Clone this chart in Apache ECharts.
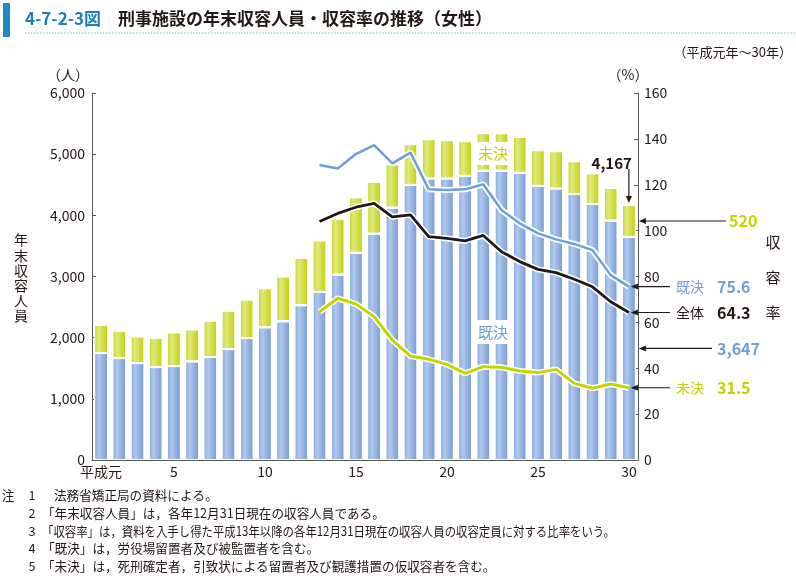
<!DOCTYPE html>
<html><head><meta charset="utf-8">
<script src="https://cdn.jsdelivr.net/npm/echarts@6/dist/echarts.min.js"></script>
<style>html,body{margin:0;padding:0;background:#fff}#c{width:796px;height:576px}</style>
</head><body><div id="c"></div>
<script>
// ---- data ----
const years = ['平成元','2','3','4','5','6','7','8','9','10','11','12','13','14','15','16','17','18','19','20','21','22','23','24','25','26','27','28','29','30'];
const kiketsu = [1749,1667,1585,1519,1536,1612,1683,1814,1995,2169,2268,2530,2749,3030,3388,3699,4126,4497,4601,4601,4645,4727,4727,4694,4481,4437,4350,4186,3913,3647];
const miketsu = [464,448,437,481,551,525,596,629,628,640,732,776,841,915,907,847,710,667,645,629,568,617,617,590,585,612,535,503,535,520];
const rateKiketsu = [null,null,null,null,null,null,null,null,null,null,null,null,128.6,127.1,133.4,137.3,129.3,134.0,118.0,117.7,118.0,120.2,109.0,103.2,98.8,96.2,94.2,91.5,80.6,75.6];
const rateTotal   = [null,null,null,null,null,null,null,null,null,null,null,null,104.0,107.5,110.2,111.9,106.0,106.9,97.4,96.6,95.5,97.9,90.8,86.5,83.1,81.7,78.8,75.5,69.0,64.3];
const rateMiketsu = [null,null,null,null,null,null,null,null,null,null,null,null,64.6,70.5,68.0,62.5,52.3,45.3,43.9,41.7,37.8,40.7,40.4,38.8,38.1,39.5,33.4,31.3,33.1,31.5];
const leftTicks = [0,1000,2000,3000,4000,5000,6000];
const rightTicks = [0,20,40,60,80,100,120,140,160];
const notes = [
  ['注','1','法務省矯正局の資料による。'],
  ['','2','「年末収容人員」は，各年12月31日現在の収容人員である。'],
  ['','3','「収容率」は，資料を入手し得た平成13年以降の各年12月31日現在の収容人員の収容定員に対する比率をいう。'],
  ['','4','「既決」は，労役場留置者及び被監置者を含む。'],
  ['','5','「未決」は，死刑確定者，引致状による留置者及び観護措置の仮収容者を含む。']
];

const FONT = '"Noto Sans CJK JP","Noto Sans",sans-serif';
const BLUE = '#6f9fdb', GREEN = '#c5d400', BLACK = '#231815', AX = '#595757';
const blueGrad = new echarts.graphic.LinearGradient(0,0,1,0,[{offset:0,color:'#85a9dc'},{offset:0.35,color:'#afc8ec'},{offset:1,color:'#7398d2'}]);
const greenGrad = new echarts.graphic.LinearGradient(0,0,1,0,[{offset:0,color:'#c6d61e'},{offset:0.35,color:'#dfe97f'},{offset:1,color:'#c0d000'}]);

const chart = echarts.init(document.getElementById('c'));
const fmt = v => v.toLocaleString('en-US');

function halo(data){return {type:'line',yAxisIndex:1,data:data,symbol:'none',silent:true,lineStyle:{color:'#fff',width:6},z:3,animation:false};}
function ln(data,color,w){return {type:'line',yAxisIndex:1,data:data,symbol:'none',lineStyle:{color:color,width:w},z:4,animation:false};}

chart.setOption({
  animation:false,
  textStyle:{fontFamily:FONT},
  grid:{left:92,right:158,top:93,bottom:116},
  xAxis:{type:'category',data:years,
    axisLine:{show:true,lineStyle:{color:AX,width:1}},axisTick:{show:false},
    axisLabel:{color:BLACK,fontSize:14,fontFamily:FONT,margin:5,
      interval:(i)=> i===0 || (i+1)%5===0 }},
  yAxis:[
    {type:'value',min:leftTicks[0],max:leftTicks[leftTicks.length-1],interval:1000,
     axisLine:{show:true,lineStyle:{color:AX}},axisTick:{show:true,inside:true,length:4,lineStyle:{color:AX}},
     splitLine:{show:false},axisLabel:{color:BLACK,fontSize:14,fontFamily:FONT,margin:7,formatter:fmt}},
    {type:'value',min:rightTicks[0],max:rightTicks[rightTicks.length-1],interval:20,position:'right',
     axisLine:{show:true,lineStyle:{color:AX}},axisTick:{show:true,inside:true,length:4,lineStyle:{color:AX}},
     splitLine:{show:false},axisLabel:{color:BLACK,fontSize:14,fontFamily:FONT,margin:6}}
  ],
  series:[
    {type:'bar',stack:'a',data:kiketsu,barWidth:14,itemStyle:{color:blueGrad,borderColor:'#fff',borderWidth:1}},
    {type:'bar',stack:'a',data:miketsu,barWidth:14,itemStyle:{color:greenGrad,borderColor:'#fff',borderWidth:1}},
    halo(rateKiketsu), ln(rateKiketsu,BLUE,2.5),
    halo(rateTotal), ln(rateTotal,BLACK,2.8),
    halo(rateMiketsu), ln(rateMiketsu,GREEN,3)
  ]
});

// ---- annotations ----
const last = years.length-1;
const px = (v)=>chart.convertToPixel({xAxisIndex:0,yAxisIndex:0},v);
const pr = (v)=>chart.convertToPixel({xAxisIndex:0,yAxisIndex:1},v);
const total30 = kiketsu[last]+miketsu[last];
const pTop = px([last,total30]);
const pMid = px([last,kiketsu[last]+miketsu[last]/2]);
const pBlue = px([last,kiketsu[last]/2]);
const axisX = chart.convertToPixel({xAxisIndex:0},last) + 9;
const G = [];
function txt(x,y,s,o,extra){G.push(Object.assign({type:'text',z:100,x:x,y:y,style:Object.assign({text:s,font:'14px '+FONT,fill:BLACK,textAlign:'left',textVerticalAlign:'middle'},o||{})},extra||{}));}
function arrowH(x1,x2,y){ // tip at x1 (left)
  G.push({type:'line',z:100,shape:{x1:x1+6,y1:y,x2:x2,y2:y},style:{stroke:BLACK,lineWidth:1.2}});
  G.push({type:'polygon',z:100,shape:{points:[[x1,y],[x1+7,y-3],[x1+7,y+3]]},style:{fill:BLACK}});
}
function arrowV(x,y1,y2){ // tip at y2 (down)
  G.push({type:'line',z:100,shape:{x1:x,y1:y1,x2:x,y2:y2-6},style:{stroke:BLACK,lineWidth:1.2}});
  G.push({type:'polygon',z:100,shape:{points:[[x,y2],[x-3,y2-7],[x+3,y2-7]]},style:{fill:BLACK}});
}
// title
G.push({type:'rect',z:100,shape:{x:3,y:3,width:7,height:34},style:{fill:'#1e88c3'}});
txt(25,19,'4-7-2-3図',{font:'bold 17px '+FONT,fill:'#1b80b8'});
txt(118,19,'刑事施設の年末収容人員・収容率の推移（女性）',{font:'bold 17px '+FONT});
G.push({type:'line',z:100,shape:{x1:25,y1:33,x2:796,y2:33},style:{stroke:'#6cc0dc',lineWidth:1,lineDash:[1.5,1.5]}});
txt(792,52,'（平成元年～30年）',{font:'13px '+FONT,textAlign:'right'});
txt(68,75,'（人）',{textAlign:'center'});
txt(628,75,'（%）',{textAlign:'center'});
// left axis title
['年','末','収','容','人','員'].forEach((c,i)=>txt(21,240+i*15.2,c,{textAlign:'center',font:'14px '+FONT}));
// right axis title
['収','容','率'].forEach((c,i)=>txt(773,242+i*35.3,c,{textAlign:'center',font:'15px '+FONT}));
// in-bar labels
G.push({type:'rect',z:90,shape:{x:475,y:142,width:36,height:23},style:{fill:'#fff'}});
txt(493,153.5,'未決',{textAlign:'center',fill:GREEN,font:'15px '+FONT});
G.push({type:'rect',z:90,shape:{x:475,y:320,width:36,height:24},style:{fill:'#fff'}});
txt(493,332,'既決',{textAlign:'center',fill:BLUE,font:'15px '+FONT});
// 4,167
txt(pTop[0]+3,163,fmt(total30),{textAlign:'right',font:'bold 15px '+FONT});
arrowV(pTop[0],169,pTop[1]-2);
// 520
arrowH(axisX+1,726,pMid[1]);
txt(729,pMid[1],fmt(miketsu[last]),{font:'bold 16px '+FONT,fill:GREEN});
// 3,647
arrowH(axisX+1,712,pBlue[1]);
txt(717,pBlue[1],fmt(kiketsu[last]),{font:'bold 16px '+FONT,fill:BLUE});
// rates
[[rateKiketsu,'既決',BLUE],[rateTotal,'全体',BLACK],[rateMiketsu,'未決',GREEN]].forEach(r=>{
  const p = pr([last,r[0][last]]);
  arrowH(p[0]+2,670,p[1]);
  txt(676,p[1],r[1],{fill:r[2],font:'14px '+FONT});
  txt(717,p[1],r[0][last].toFixed(1),{fill:r[2],font:'bold 16px '+FONT});
});
// notes
const noteY=[495,513,531,548,566];
const noteScale=[1,1,0.905,1,1];
notes.forEach((n,i)=>{
  if(n[0]) txt(8,noteY[i],n[0],{textAlign:'center',font:'12.6px '+FONT});
  txt(32,noteY[i],n[1],{textAlign:'center',font:'12.6px '+FONT});
  txt(n[2][0]==='「'?42:54,noteY[i],n[2],{font:'12.6px '+FONT},{scaleX:noteScale[i]});
});
chart.setOption({graphic:{elements:G}});
</script></body></html>
